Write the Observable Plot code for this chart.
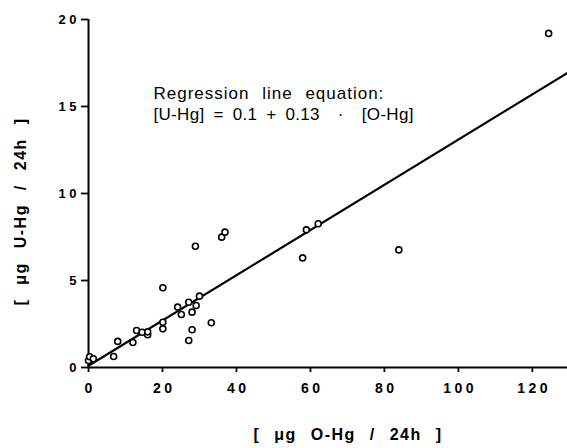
<!DOCTYPE html>
<html><head><meta charset="utf-8">
<script src="https://cdn.jsdelivr.net/npm/d3@7"></script>
<script src="https://cdn.jsdelivr.net/npm/@observablehq/plot@0.6"></script>
<style>body{margin:0;background:#fff}</style>
</head><body><div id="chart"></div>
<script>
// O-Hg (µg/24h) and U-Hg (µg/24h)
const ohg = [0, 0.3, 1.3, 6.8, 7.9, 12, 13, 14.5, 16, 16, 20.1, 20.1, 20.1, 24.1, 25.1, 27.1, 27.1, 28, 28, 29.1, 28.9, 30, 33.2, 36, 36.9, 57.9, 58.9, 62.1, 83.9, 124.4];
const uhg = [0.4, 0.62, 0.5, 0.63, 1.5, 1.44, 2.13, 2.03, 1.88, 2.05, 4.58, 2.6, 2.22, 3.47, 3.05, 3.75, 1.55, 3.18, 2.17, 3.56, 6.97, 4.1, 2.57, 7.49, 7.78, 6.3, 7.91, 8.26, 6.76, 19.2];
const xTicks = [0, 20, 40, 60, 80, 100, 120];
const yTicks = [0, 5, 10, 15, 20];
const xDomain = [0, 129.5];
const yDomain = [0, 20];
// regression line as stated in the chart
const intercept = 0.1;
const slope = 0.13;
const eqLines = ["Regression line equation:", "[U-Hg] = 0.1 + 0.13  ·  [O-Hg]"];
const xLabel = "[ μg O-Hg / 24h ]";
const yLabel = "[ μg U-Hg / 24h ]";

const points = ohg.map((x, i) => ({x, y: uhg[i]}));
const fit = xDomain.map(x => ({x, y: intercept + slope * x}));

const chart = Plot.plot({
  width: 567, height: 448,
  marginLeft: 88, marginRight: 0, marginTop: 19, marginBottom: 81,
  x: {domain: xDomain},
  y: {domain: yDomain},
  style: {fontFamily: "'Liberation Sans', Arial, sans-serif", background: "#fff", color: "#000"},
  marks: [
    Plot.axisX({ticks: xTicks, tickSize: 5, tickPadding: 11, label: null, fontSize: 14, fontWeight: "bold", strokeWidth: 1.8, className: "xt"}),
    Plot.axisY({ticks: yTicks, tickSize: 7, tickPadding: 1.5, label: null, fontSize: 13, fontWeight: "bold", strokeWidth: 1.8, className: "yt"}),
    Plot.ruleY([0], {strokeWidth: 2}),
    Plot.ruleX([0], {strokeWidth: 2}),
    Plot.line(fit, {x: "x", y: "y", strokeWidth: 2.2}),
    Plot.dot(points, {x: "x", y: "y", r: 3, stroke: "#000", strokeWidth: 1.6, fill: "#fff"}),
    Plot.text([eqLines[0]], {frameAnchor: "top-left", dx: 65, dy: 67, textAnchor: "start", lineAnchor: "top", fontSize: 17, className: "eq1"}),
    Plot.text([eqLines[1]], {frameAnchor: "top-left", dx: 65, dy: 88, textAnchor: "start", lineAnchor: "top", fontSize: 17, className: "eq2"}),
    Plot.text([xLabel], {frameAnchor: "bottom", dx: 20, dy: 67, textAnchor: "middle", lineAnchor: "middle", fontSize: 16, fontWeight: "bold", className: "xlab"}),
    Plot.text([yLabel], {frameAnchor: "left", dx: -68, dy: 18, rotate: -90, textAnchor: "middle", lineAnchor: "middle", fontSize: 16, fontWeight: "bold", className: "ylab"})
  ]
});
document.getElementById("chart").appendChild(chart);
const svg = d3.select(chart);
svg.selectAll('g[aria-label="x-axis tick label"] text').style("letter-spacing", "3.5px").attr("dx", 1.75);
svg.selectAll('g[aria-label="y-axis tick label"] text').style("letter-spacing", "3.5px");
svg.selectAll('.xlab text, .ylab text').style("letter-spacing", "1.5px").style("word-spacing", "8px");
svg.selectAll('.eq1 text').style("letter-spacing", "1px").style("word-spacing", "7px");
svg.selectAll('.eq2 text').style("letter-spacing", "0.3px").style("word-spacing", "4px").style("white-space", "pre");
</script>
</body></html>
